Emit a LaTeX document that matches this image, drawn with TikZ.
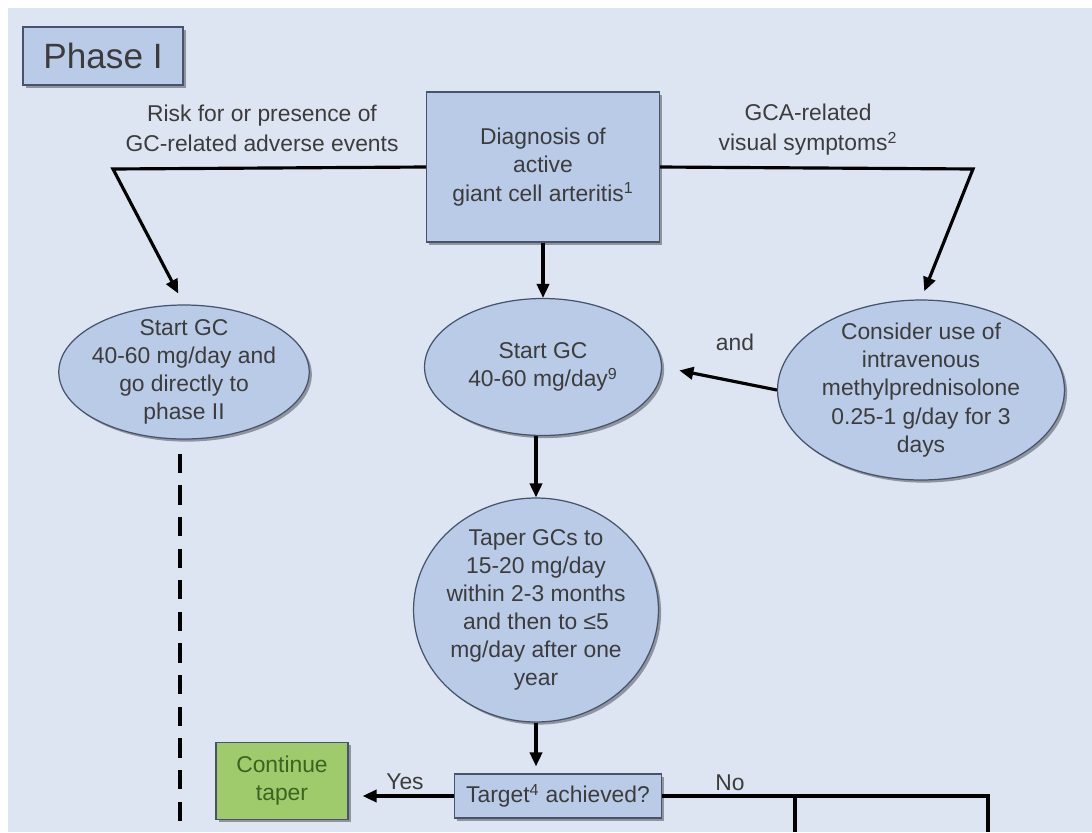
\documentclass[tikz,border=0pt]{standalone}
\usepackage{fontspec}
\setmainfont{Liberation Sans}
\usetikzlibrary{arrows.meta,shapes.geometric,shadows}
\definecolor{bggray}{HTML}{DDE5F3}
\definecolor{boxblue}{HTML}{B9CBE6}
\definecolor{edgegray}{HTML}{46536A}
\definecolor{textgray}{HTML}{3C3C3C}
\definecolor{boxgreen}{HTML}{9FCB6D}
\definecolor{textgreen}{HTML}{3A6420}

\begin{document}
\begin{tikzpicture}[x=0.02cm, y=-0.02cm, >={Triangle[length=8pt,width=7pt]},
  font=\fontsize{13}{16}\selectfont, text=textgray,
  boxshadow/.style={drop shadow={shadow xshift=1.5pt, shadow yshift=-1.5pt, opacity=0.35, fill=black}},
  rectbox/.style={draw=edgegray, line width=0.7pt, fill=boxblue, boxshadow, align=center, inner sep=2pt},
  oval/.style={ellipse, draw=edgegray, line width=0.7pt, fill=boxblue, boxshadow, align=center, inner xsep=-2pt, inner ysep=-3pt},
  link/.style={line width=1.8pt, black},
  lbl/.style={align=center, font=\fontsize{13}{17}\selectfont}]
  \fill[white] (0,0) rectangle (1092,832);
  \fill[bggray] (8,8) rectangle (1092,832);
  \useasboundingbox (0,0) rectangle (1092,832);

  \node[rectbox, minimum width=3.2cm, minimum height=1.16cm, font=\fontsize{20}{24}\selectfont] (phase) at (103,56) {Phase I};
  \node[rectbox, minimum width=4.66cm, minimum height=3cm] (diag) at (543,167) {Diagnosis of\\active\\giant cell arteritis\textsuperscript{1}};
  \node[lbl] (risklbl) at (262,128) {Risk for or presence of\\GC-related adverse events};
  \node[lbl] (visuallbl) at (808,130) {GCA-related\\visual symptoms\textsuperscript{2}};
  \node[oval, minimum width=4.88cm, minimum height=2.68cm] (startdirect) at (184,372) {Start GC\\40-60 mg/day and\\go directly to\\phase II};
  \node[oval, minimum width=4.74cm, minimum height=2.74cm] (startgc) at (543,367) {Start GC\\40-60 mg/day\textsuperscript{9}};
  \node[oval, minimum width=5.74cm, minimum height=3.6cm] (ivmp) at (921,390) {Consider use of\\intravenous\\methylprednisolone\\0.25-1 g/day for 3\\days};
  \node[oval, minimum width=4.9cm, minimum height=4.48cm] (taper) at (536,610) {Taper GCs to\\15-20 mg/day\\within 2-3 months\\and then to ≤5\\mg/day after one\\year};
  \node[rectbox, minimum width=4.14cm, minimum height=0.88cm] (target) at (558,796) {Target\textsuperscript{4} achieved?};
  \node[rectbox, fill=boxgreen, text=textgreen, minimum width=2.64cm, minimum height=1.54cm] (cont) at (282,781) {Continue\\taper};
  \node (andlbl) at (735,342) {and};
  \node (yeslbl) at (405,782) {Yes};
  \node (nolbl) at (730,783) {No};

  \coordinate (lbend) at (113,169);
  \coordinate (rbend) at (973,169);
  \coordinate (dashend) at (180,832);
  \coordinate (nobend) at (988,796);
  \coordinate (noleft) at (795,832);
  \coordinate (noright) at (988,832);

  \draw[link, ->, shorten >=7pt] (diag.west) -- (lbend) -- (startdirect.north);
  \draw[link, ->, shorten >=5pt] (diag.east) -- (rbend) -- (ivmp.north);
  \draw[link, ->] (diag.south) -- (startgc.north);
  \draw[link, ->, shorten >=10pt] (ivmp.west) -- (startgc.east);
  \draw[link, ->] (taper.north |- startgc.south) -- (taper.north);
  \draw[link, ->, shorten >=4pt] (taper.south) -- (taper.south |- target.north);
  \draw[link, ->, shorten >=8pt] (target.west) -- (target.west -| cont.east);
  \draw[link] (target.east) -- (nobend) -- (noright);
  \draw[link] (noleft |- nobend) -- (noleft);
  \draw[link, dash pattern=on 11pt off 7pt, line width=2.2pt, shorten <=8pt] (startdirect.south -| dashend) -- (dashend);
\end{tikzpicture}
\end{document}
